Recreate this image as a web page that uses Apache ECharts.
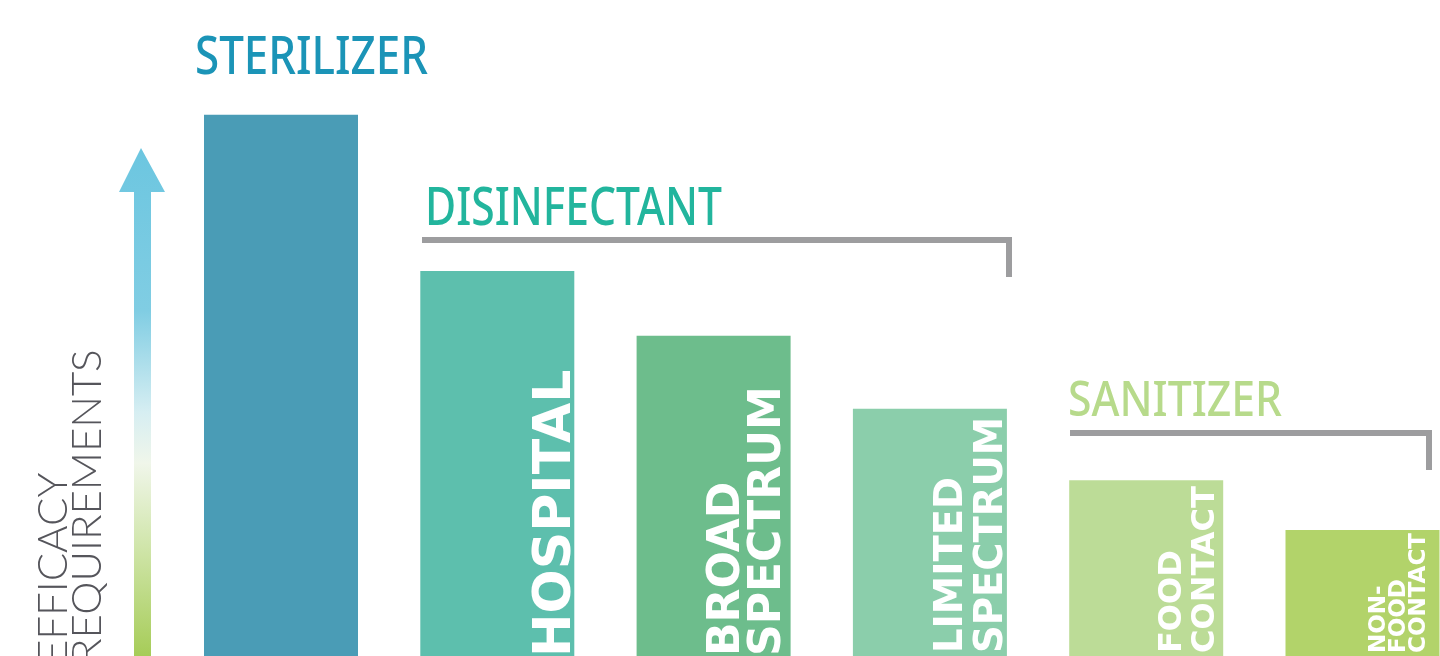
<!DOCTYPE html>
<html><head><meta charset="utf-8">
<script src="https://cdn.jsdelivr.net/npm/echarts@6/dist/echarts.min.js"></script>
<style>html,body{margin:0;padding:0;background:#fff}#c{width:1440px;height:656px}</style>
</head><body><div id="c"></div>
<script>
// ---- data ----
const categories = ['STERILIZER', 'HOSPITAL', 'BROAD SPECTRUM', 'LIMITED SPECTRUM', 'FOOD CONTACT', 'NON-FOOD CONTACT'];
const efficacy = [82.5, 58.7, 48.8, 37.7, 26.8, 19.2];
const barLabels = ['', 'HOSPITAL', 'BROAD\nSPECTRUM', 'LIMITED\nSPECTRUM', 'FOOD\nCONTACT', 'NON-\nFOOD\nCONTACT'];
const groupNames = ['STERILIZER', 'DISINFECTANT', 'SANITIZER'];
const axisTitle = 'EFFICACY\nREQUIREMENTS';

// ---- styles ----
const barColors = ['#4a9cb6', '#5dbfad', '#6dbd8c', '#8bceab', '#bcdc97', '#b2d36a'];
const labelSizes = [0, 52, 44, 38.5, 32, 23];
const labelLines = [0, 52, 41, 40, 33, 20];
// offset: [along text (up), across text (right)]
const labelOffsets = [[0, 0], [-1, 8], [0, -2], [3, 5], [3, -1], [3, -10]];
const groupColors = ['#1b94b7', '#22b59d', '#b7da8b'];

const ctx = document.createElement('canvas').getContext('2d');
function fit(text, font, target) { ctx.font = font; return target / ctx.measureText(text).width; }

const chart = echarts.init(document.getElementById('c'), null, {renderer: 'canvas'});

const titleSpecs = [
  {x: 195, y: 59, w: 233, font: '500 52px "Noto Sans"'},
  {x: 425, y: 210.5, w: 297, font: '500 52px "Noto Sans"'},
  {x: 1068, y: 402.5, w: 214, font: '500 49px "Noto Sans"'}
];

const graphics = [];
groupNames.forEach((g, i) => {
  const s = titleSpecs[i];
  graphics.push({
    type: 'text', x: s.x, y: s.y, scaleX: fit(g, s.font, s.w), scaleY: 1,
    style: {text: g, font: s.font, fill: groupColors[i], align: 'left', verticalAlign: 'middle'}
  });
});
// brackets
const bracketColor = '#9d9d9f';
graphics.push({type: 'polyline', shape: {points: [[422, 240], [1009, 240], [1009, 277]]},
  style: {stroke: bracketColor, lineWidth: 6, fill: null}});
graphics.push({type: 'polyline', shape: {points: [[1070, 433], [1429, 433], [1429, 470]]},
  style: {stroke: bracketColor, lineWidth: 6, fill: null}});
// arrow
graphics.push({type: 'polygon', shape: {points: [[141, 148], [165, 192], [151, 192], [151, 656], [134, 656], [134, 192], [119, 192]]},
  style: {fill: new echarts.graphic.LinearGradient(0, 0, 0, 1, [
    {offset: 0, color: '#6cc6e0'}, {offset: 0.32, color: '#80cde3'}, {offset: 0.52, color: '#d6eef2'},
    {offset: 0.62, color: '#f0f6ea'}, {offset: 0.77, color: '#d3e7b0'}, {offset: 1, color: '#a6cc58'}])}});
// axis title
graphics.push({type: 'text', x: 36, y: 664, rotation: Math.PI / 2,
  style: {text: axisTitle, font: '300 42px Lato', lineHeight: 34, fill: '#55555b', align: 'left', verticalAlign: 'top'}});

const option = {
  backgroundColor: '#ffffff',
  animation: false,
  grid: {left: 281, right: 77.5, top: 0, bottom: 0},
  xAxis: {type: 'category', data: categories, show: false, boundaryGap: false},
  yAxis: {type: 'value', min: 0, max: 100, show: false},
  series: [{
    type: 'bar', barWidth: 154, clip: false,
    data: efficacy.map((v, i) => ({
      value: v,
      itemStyle: {color: barColors[i]},
      label: {
        show: !!barLabels[i], formatter: barLabels[i], position: ['100%', '100%'], rotate: 90,
        align: 'left', verticalAlign: 'bottom', offset: labelOffsets[i],
        color: '#ffffff', fontFamily: 'DejaVu Sans', fontWeight: 'bold',
        fontSize: labelSizes[i] || 12, lineHeight: labelLines[i] || 12
      }
    }))
  }],
  graphic: graphics
};
chart.setOption(option);
</script></body></html>
